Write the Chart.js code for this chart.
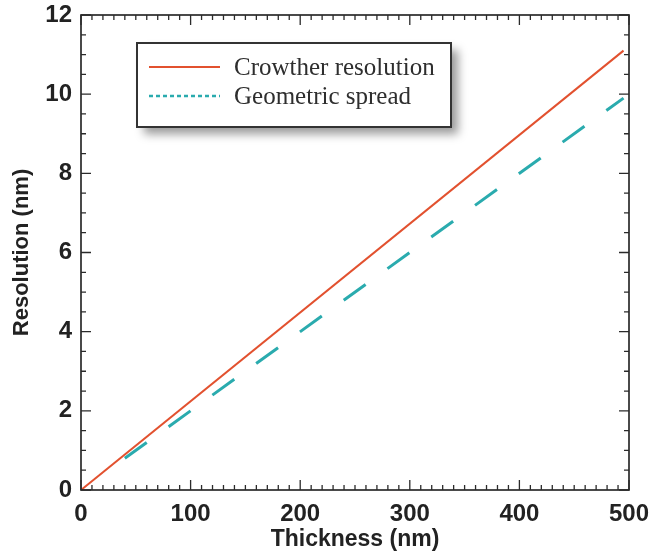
<!DOCTYPE html>
<html>
<head>
<meta charset="utf-8">
<script src="https://cdn.jsdelivr.net/npm/chart.js@4.4.1/dist/chart.umd.min.js"></script>
<style>
  html, body { margin: 0; padding: 0; background: #ffffff; }
  #wrap { width: 654px; height: 552px; }
</style>
</head>
<body>
<div id="wrap"><canvas id="c" width="654" height="552"></canvas></div>
<script>
// Specimen thickness (nm) and the resolution estimates (nm)
const crowtherThickness = [0, 495];
const crowtherResolution = [0, 11.1];
const spreadThickness = [40, 495];
const geometricSpread = [0.8, 9.9];

const seriesLabels = ['Crowther resolution', 'Geometric spread'];
const xTicks = [0, 100, 200, 300, 400, 500];
const yTicks = [0, 2, 4, 6, 8, 10, 12];

const RED = '#e2512f';
const TEAL = '#2aabae';
const AXIS = '#2b2b2b';

const toPoints = (xs, ys) => xs.map((x, i) => ({ x: x, y: ys[i] }));

// Keep label overhang from shrinking the plot box
function noOverhang(scale) {
  scale.paddingLeft = 0;
  scale.paddingRight = 0;
  scale.paddingTop = 0;
  scale.paddingBottom = 0;
}

// Inward major/minor ticks on all four sides plus the frame
const framePlugin = {
  id: 'frame',
  afterDraw(chart) {
    const { ctx, chartArea: a, scales: { x, y } } = chart;
    ctx.save();
    ctx.strokeStyle = AXIS;
    ctx.lineWidth = 1.7;
    ctx.strokeRect(a.left, a.top, a.right - a.left, a.bottom - a.top);
    ctx.lineWidth = 1.3;
    ctx.beginPath();
    for (let v = 0; v <= 500; v += 10) {
      const px = x.getPixelForValue(v);
      const len = v % 100 === 0 ? 10 : 5;
      ctx.moveTo(px, a.bottom); ctx.lineTo(px, a.bottom - len);
      ctx.moveTo(px, a.top); ctx.lineTo(px, a.top + len);
    }
    for (let v = 0; v <= 12.001; v += 0.5) {
      const py = y.getPixelForValue(v);
      const len = Math.abs(v % 2) < 1e-6 ? 10 : 5;
      ctx.moveTo(a.left, py); ctx.lineTo(a.left + len, py);
      ctx.moveTo(a.right, py); ctx.lineTo(a.right - len, py);
    }
    ctx.stroke();
    ctx.restore();
  }
};

// Boxed legend with a soft drop shadow inside the plot
const boxLegend = {
  id: 'boxLegend',
  afterDraw(chart) {
    const { ctx } = chart;
    const bx = 137, by = 43, bw = 314, bh = 84;
    ctx.save();
    ctx.shadowColor = 'rgba(0,0,0,0.4)';
    ctx.shadowBlur = 9;
    ctx.shadowOffsetX = 7;
    ctx.shadowOffsetY = 7;
    ctx.fillStyle = '#ffffff';
    ctx.fillRect(bx, by, bw, bh);
    ctx.restore();
    ctx.save();
    ctx.strokeStyle = '#333333';
    ctx.lineWidth = 2;
    ctx.strokeRect(bx, by, bw, bh);
    const rows = [67, 96];
    chart.data.datasets.forEach((ds, i) => {
      ctx.beginPath();
      ctx.strokeStyle = ds.borderColor;
      ctx.lineWidth = i === 0 ? 2 : 2.5;
      ctx.setLineDash(i === 0 ? [] : [4, 3]);
      ctx.moveTo(149, rows[i]);
      ctx.lineTo(220, rows[i]);
      ctx.stroke();
      ctx.setLineDash([]);
      ctx.fillStyle = '#2e2e2e';
      ctx.font = '25px "Liberation Serif", "Times New Roman", serif';
      ctx.textBaseline = 'middle';
      ctx.textAlign = 'left';
      ctx.fillText(ds.label, 234, rows[i] + 1);
    });
    ctx.restore();
  }
};

const tickFont = { family: '"Liberation Sans", Arial, sans-serif', size: 24, weight: 'bold' };

new Chart(document.getElementById('c'), {
  type: 'scatter',
  data: {
    datasets: [
      {
        label: seriesLabels[0],
        data: toPoints(crowtherThickness, crowtherResolution),
        showLine: true,
        borderColor: RED,
        borderWidth: 2,
        pointRadius: 0,
        fill: false
      },
      {
        label: seriesLabels[1],
        data: toPoints(spreadThickness, geometricSpread),
        showLine: true,
        borderColor: TEAL,
        borderWidth: 3,
        borderDash: [27, 27],
        pointRadius: 0,
        fill: false
      }
    ]
  },
  options: {
    responsive: false,
    animation: false,
    devicePixelRatio: 1,
    layout: { padding: { top: 15, right: 25, left: 0, bottom: 0 } },
    plugins: { legend: { display: false }, tooltip: { enabled: false } },
    scales: {
      x: {
        type: 'linear',
        min: 0, max: 500,
        afterBuildTicks(scale) { scale.ticks = xTicks.map(v => ({ value: v })); },
        afterFit(scale) { scale.height = 62; noOverhang(scale); },
        grid: { display: false, drawTicks: false },
        border: { display: false },
        ticks: {
          padding: 10,
          maxRotation: 0,
          color: '#222222',
          font: tickFont
        },
        title: {
          display: true,
          text: 'Thickness (nm)',
          color: '#222222',
          padding: { top: 0, bottom: 1 },
          font: { family: '"Liberation Sans", Arial, sans-serif', size: 23, weight: 'bold', lineHeight: 1 }
        }
      },
      y: {
        type: 'linear',
        min: 0, max: 12,
        afterBuildTicks(scale) { scale.ticks = yTicks.map(v => ({ value: v })); },
        afterFit(scale) { scale.width = 81; noOverhang(scale); },
        grid: { display: false, drawTicks: false },
        border: { display: false },
        ticks: {
          padding: 9,
          color: '#222222',
          font: tickFont
        },
        title: {
          display: true,
          text: 'Resolution (nm)',
          color: '#222222',
          padding: { top: 11, bottom: 0 },
          font: { family: '"Liberation Sans", Arial, sans-serif', size: 22, weight: 'bold', lineHeight: 1 }
        }
      }
    }
  },
  plugins: [framePlugin, boxLegend]
});
</script>
</body>
</html>
